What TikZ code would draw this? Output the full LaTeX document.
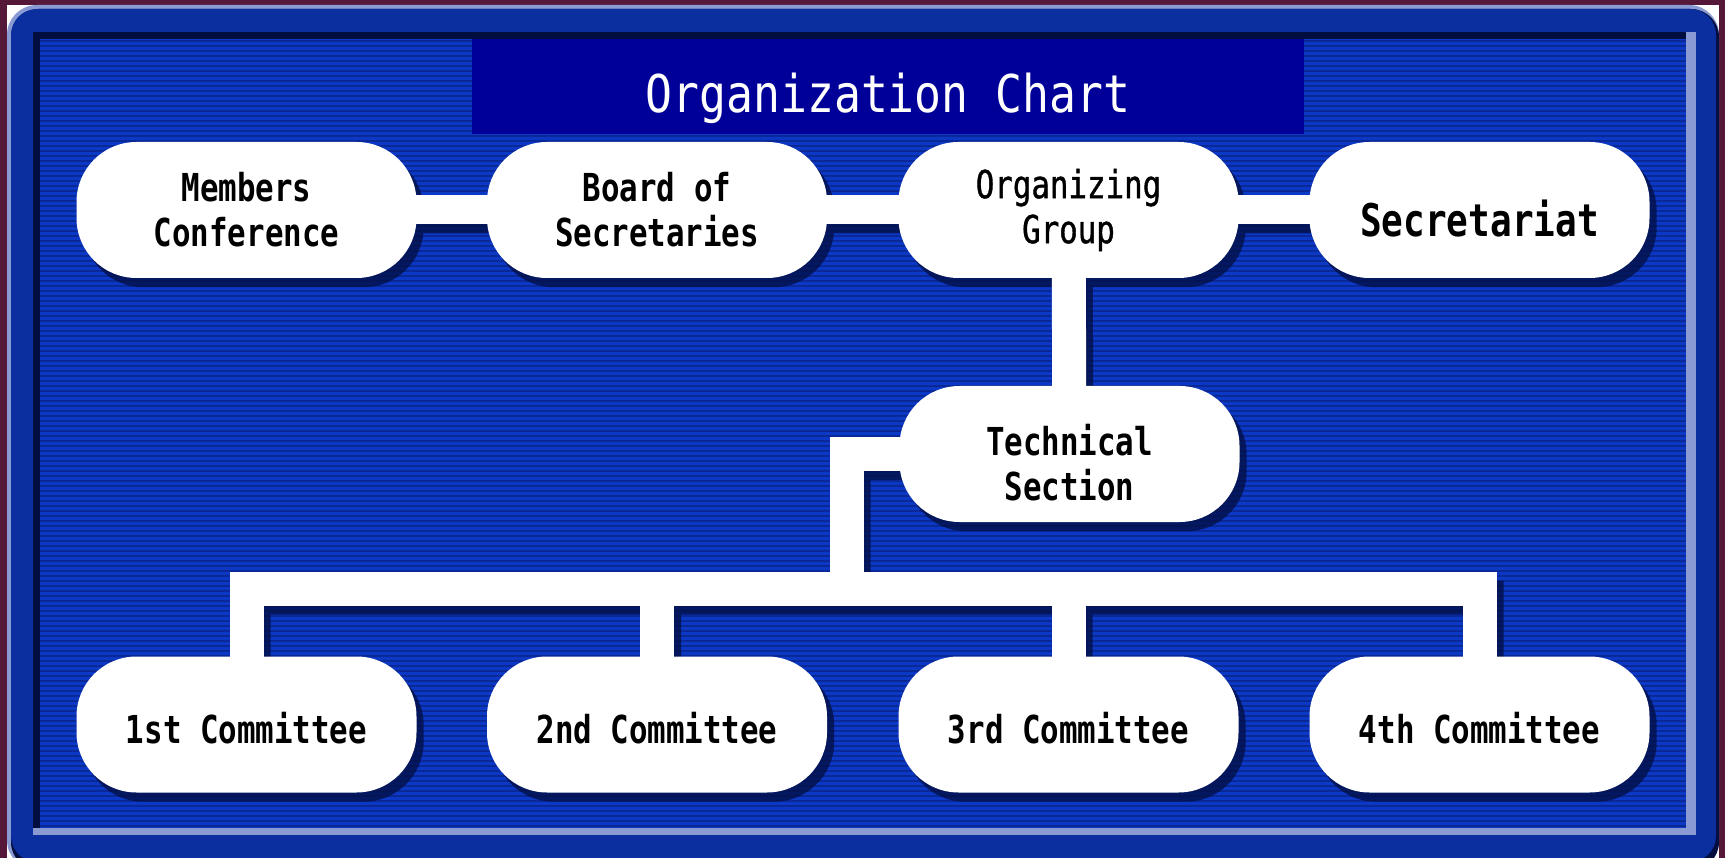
\documentclass[tikz,border=0pt]{standalone}
\usepackage{fontspec}
\newfontfamily\titlefont[FakeStretch=0.86]{DejaVu Sans Mono}
\newfontfamily\boxfont[FakeStretch=0.8]{DejaVu Sans Mono}
\newfontfamily\lightboxfont[FakeStretch=0.8, FakeBold=1]{DejaVu Sans Mono}
\definecolor{maroon}{HTML}{561838}
\definecolor{panel}{HTML}{0B38C4}
\definecolor{stripe}{HTML}{0A2896}
\definecolor{band}{HTML}{0B2F9E}
\definecolor{edgelight}{HTML}{8A9AD2}
\definecolor{navy}{HTML}{020E40}
\definecolor{titleblue}{HTML}{000099}
\pgfdeclarelayer{frame}
\pgfdeclarelayer{shadow}
\pgfdeclarelayer{bars}
\pgfsetlayers{frame,shadow,bars,main}
\tikzset{
  unit/.style={fill=white, rounded corners=60pt, minimum width=340pt, minimum height=136pt,
    inner sep=0pt, align=center, font=\boxfont\bfseries\fontsize{38.5}{45}\selectfont},
  committee/.style={unit, text height=37pt, text depth=0pt},
  titlebar/.style={fill=titleblue, minimum width=832pt, minimum height=95pt, inner sep=0pt,
    text=white, font=\titlefont\fontsize{52}{60}\selectfont, text height=53pt, text depth=0pt},
  wire/.style={line width=34pt, line join=miter},
}
% connectors, drawn twice (shadow and white)
\newcommand\wires[1]{%
  \draw[wire, #1, line width=29pt] (mc.center) -- (sec.center);
  \draw[wire, #1] (og.center) -- (ts.center);
  \draw[wire, #1] (ts.center) -| (bus);
  \draw[wire, #1] (c1.center) |- (bus) -| (c4.center);
  \draw[wire, #1] (c2.center) -- (c2.center |- bus);
  \draw[wire, #1] (c3.center) -- (c3.center |- bus);
}
\begin{document}
\begin{tikzpicture}[x=1pt,y=-1pt]
\useasboundingbox (0,0) rectangle (1725,858);

\begin{pgfonlayer}{frame}
  \fill[white] (0,0) rectangle (1725,858);
  \fill[maroon] (0,0) rectangle (1725,5);
  \fill[maroon] (0,0) rectangle (7,858);
  \fill[maroon] (1719,0) rectangle (1725,858);
  % bevelled frame
  \fill[edgelight, rounded corners=30pt] (7,5) rectangle (1719,870);
  \fill[navy, rounded corners=28pt] (11,9) rectangle (1719,870);
  \fill[band, rounded corners=26pt] (11,9) rectangle (1716,862);
  \fill[edgelight] (33,32) rectangle (1696,835);
  \fill[navy] (33,32) rectangle (1686,828);
  \fill[panel] (40,39) rectangle (1686,828);
  \foreach \y in {41,46,...,826}
    \draw[stripe, line width=2pt] (40,\y) -- (1686,\y);
\end{pgfonlayer}

\node[titlebar] (title) at (888,86.5) {Organization Chart};

\node[unit] (mc) at (246.5,210) {Members\\Conference};
\node[unit] (bs) at (657,210) {Board of\\Secretaries};
\node[unit, font=\lightboxfont\fontsize{38.5}{45}\selectfont] (og) at (1068.5,210) {Organizing\\Group};
\node[unit, font=\boxfont\bfseries\fontsize{45}{50}\selectfont,
  text height=53pt, text depth=0pt] (sec) at (1479.5,210) {Secretariat};

\node[unit, text height=93pt, text depth=0pt] (ts) at (1069.5,454) {Technical\\Section};

\node[committee] (c1) at (246.5,724.5) {1st Committee};
\node[committee] (c2) at (657,724.5) {2nd Committee};
\node[committee] (c3) at (1068.5,724.5) {3rd Committee};
\node[committee] (c4) at (1479.5,724.5) {4th Committee};

\coordinate (bus) at (846.5,588.5);

\begin{pgfonlayer}{shadow}
  \begin{scope}[transform canvas={xshift=7pt,yshift=-9pt}, transparency group, opacity=.75]
    \foreach \n in {mc,bs,og,sec,ts,c1,c2,c3,c4}
      \fill[navy, rounded corners=60pt] (\n.north west) rectangle (\n.south east);
    \wires{navy}
  \end{scope}
\end{pgfonlayer}

\begin{pgfonlayer}{bars}
  \wires{white}
\end{pgfonlayer}

\end{tikzpicture}
\end{document}
